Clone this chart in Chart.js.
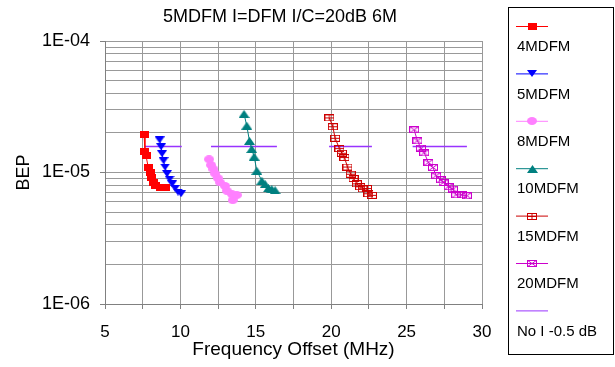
<!DOCTYPE html>
<html>
<head>
<meta charset="utf-8">
<script src="https://cdn.jsdelivr.net/npm/chart.js@4.4.1/dist/chart.umd.min.js"></script>
<style>
  body { margin: 0; background: #fff; }
  canvas { display: block; }
</style>
</head>
<body>
<canvas id="chart" width="615" height="367"></canvas>
<script>
// values (MHz / BEP)
const x4 = [7.59, 7.65, 7.72, 7.87, 7.99, 8.1, 8.2, 8.38, 8.65, 8.98];
const y4 = [1.94e-5, 1.45e-5, 1.34e-5, 1.09e-5, 1.0e-5, 9.2e-6, 8.4e-6, 7.9e-6, 7.7e-6, 7.7e-6];

const x5 = [8.62, 8.72, 8.78, 8.88, 8.98, 9.11, 9.28, 9.45, 9.65, 9.84, 10.04];
const y5 = [1.77e-5, 1.57e-5, 1.39e-5, 1.23e-5, 1.1e-5, 9.8e-6, 8.9e-6, 8.2e-6, 7.6e-6, 7.1e-6, 6.9e-6];

const x8 = [11.9, 12.03, 12.19, 12.3, 12.48, 12.63, 12.96, 13.08, 13.41, 13.74, 13.47];
const y8 = [1.26e-5, 1.14e-5, 1.06e-5, 9.8e-6, 9.06e-6, 8.4e-6, 7.9e-6, 7.26e-6, 6.85e-6, 6.73e-6, 6.16e-6];

const x10 = [14.22, 14.4, 14.58, 14.73, 14.89, 15.07, 15.4, 15.62, 15.84, 16.06, 16.28];
const y10 = [2.79e-5, 2.27e-5, 1.74e-5, 1.51e-5, 1.32e-5, 1.03e-5, 8.65e-6, 8.16e-6, 7.6e-6, 7.48e-6, 7.34e-6];

const x15 = [19.88, 20.11, 20.26, 20.55, 20.71, 20.88, 21.08, 21.3, 21.48, 21.7, 21.92, 22.1, 22.37, 22.47, 22.7];
const y15 = [2.6e-5, 2.23e-5, 1.82e-5, 1.52e-5, 1.4e-5, 1.3e-5, 1.1e-5, 9.7e-6, 9.0e-6, 8.2e-6, 7.8e-6, 7.5e-6, 7.55e-6, 6.9e-6, 6.7e-6];

const x20 = [25.5, 25.72, 25.95, 26.17, 26.45, 26.75, 26.96, 27.28, 27.45, 27.78, 28.07, 28.29, 28.67, 29.0];
const y20 = [2.11e-5, 1.74e-5, 1.53e-5, 1.41e-5, 1.19e-5, 1.09e-5, 9.44e-6, 8.8e-6, 8.4e-6, 7.8e-6, 7.48e-6, 6.76e-6, 6.76e-6, 6.65e-6];

// "No I -0.5 dB" reference level, drawn as separate segments
const noIStart = [7.65, 12.03, 19.86, 25.4];
const noIEnd = [10.09, 16.4, 22.7, 29.0];
const noIBep = 1.58e-5;

const seriesNames = ['4MDFM', '5MDFM', '8MDFM', '10MDFM', '15MDFM', '20MDFM', 'No I -0.5 dB'];
const titleText = '5MDFM I=DFM I/C=20dB 6M';
const xTitle = 'Frequency Offset (MHz)';
const yTitle = 'BEP';

const FONT = '"Liberation Sans", Arial, sans-serif';

function pts(xs, ys) {
  return xs.map((x, i) => ({ x: x, y: ys[i] }));
}

function noIData() {
  const out = [];
  noIStart.forEach((s, i) => {
    out.push({ x: s, y: noIBep });
    out.push({ x: noIEnd[i], y: noIBep });
    if (i < noIStart.length - 1) out.push({ x: (noIEnd[i] + noIStart[i + 1]) / 2, y: null });
  });
  return out;
}

// small canvases used as marker shapes
function marker(w, h, draw) {
  const c = document.createElement('canvas');
  c.width = w; c.height = h;
  draw(c.getContext('2d'), w, h);
  return c;
}

const mk4 = marker(9, 7, (g, w, h) => { g.fillStyle = '#ff0000'; g.fillRect(0, 0, w, h); });
const mk5 = marker(10, 7, (g, w, h) => {
  g.fillStyle = '#0000ff';
  g.beginPath(); g.moveTo(0, 0); g.lineTo(w, 0); g.lineTo(w / 2, h); g.closePath(); g.fill();
});
const mk8 = marker(10, 8, (g, w, h) => {
  g.fillStyle = '#ff80ff';
  g.beginPath(); g.ellipse(w / 2, h / 2, w / 2, h / 2, 0, 0, Math.PI * 2); g.fill();
});
const mk10 = marker(11, 8, (g, w, h) => {
  g.fillStyle = '#008080';
  g.beginPath(); g.moveTo(w / 2, 0); g.lineTo(w, h); g.lineTo(0, h); g.closePath(); g.fill();
});
const mk15 = marker(10, 7, (g, w, h) => {
  g.strokeStyle = '#cc0000'; g.lineWidth = 1;
  g.strokeRect(0.5, 0.5, w - 1, h - 1);
  g.beginPath();
  g.moveTo(w / 2, 0); g.lineTo(w / 2, h);
  g.moveTo(0, h / 2); g.lineTo(w, h / 2);
  g.stroke();
});
const mk20 = marker(10, 7, (g, w, h) => {
  g.strokeStyle = '#cc00cc'; g.lineWidth = 1;
  g.strokeRect(0.5, 0.5, w - 1, h - 1);
  g.beginPath();
  g.moveTo(0, 0); g.lineTo(w, h);
  g.moveTo(w, 0); g.lineTo(0, h);
  g.stroke();
});

const yTickValues = [];
for (let e = -6; e < -4; e++) {
  for (let m = 1; m <= 9; m++) yTickValues.push(Number((m * Math.pow(10, e)).toPrecision(3)));
}
yTickValues.push(1e-4);

function isDecade(v) {
  const l = Math.log10(v);
  return Math.abs(l - Math.round(l)) < 1e-9;
}

function series(label, data, color, style) {
  return {
    label: label, data: data, showLine: true,
    borderColor: color, backgroundColor: color, borderWidth: 1,
    pointStyle: style, pointRadius: 5, pointHoverRadius: 5
  };
}

const datasets = [
  series(seriesNames[0], pts(x4, y4), '#ff0000', mk4),
  series(seriesNames[1], pts(x5, y5), '#0000ff', mk5),
  series(seriesNames[2], pts(x8, y8), '#ff80ff', mk8),
  series(seriesNames[3], pts(x10, y10), '#008080', mk10),
  series(seriesNames[4], pts(x15, y15), '#cc0000', mk15),
  series(seriesNames[5], pts(x20, y20), '#cc00cc', mk20),
  { label: seriesNames[6], data: noIData(), showLine: true, borderColor: '#9933ff',
    borderWidth: 1.5, pointRadius: 0, spanGaps: false }
];

// titles, plus the legend as a boxed column on the right
const decorations = {
  id: 'decorations',
  afterDraw(chart) {
    const ctx = chart.ctx;
    const area = chart.chartArea;
    ctx.save();
    ctx.fillStyle = '#000';
    ctx.textAlign = 'center';
    ctx.textBaseline = 'middle';
    ctx.font = '18px ' + FONT;
    ctx.fillText(titleText, 280, 17);

    ctx.font = '19px ' + FONT;
    ctx.fillText(xTitle, (area.left + area.right) / 2, 350);

    ctx.save();
    ctx.translate(24, (area.top + area.bottom) / 2);
    ctx.rotate(-Math.PI / 2);
    ctx.font = '18px ' + FONT;
    ctx.fillText(yTitle, 0, 0);
    ctx.restore();

    ctx.strokeStyle = '#000';
    ctx.lineWidth = 1;
    ctx.strokeRect(508.5, 7.5, 105, 347);

    ctx.font = '15px ' + FONT;
    ctx.textAlign = 'left';
    chart.data.datasets.forEach((ds, i) => {
      const ly = 26.5 + i * 47.4;
      ctx.strokeStyle = ds.borderColor;
      ctx.lineWidth = 1;
      ctx.beginPath();
      ctx.moveTo(516, ly); ctx.lineTo(548, ly);
      ctx.stroke();
      if (ds.pointStyle && ds.pointStyle.width) {
        const m = ds.pointStyle;
        ctx.drawImage(m, Math.round(532 - m.width / 2), Math.round(ly - m.height / 2));
      }
      ctx.fillStyle = '#000';
      ctx.fillText(ds.label, 517, ly + 20.5);
    });
    ctx.restore();
  }
};

new Chart(document.getElementById('chart'), {
  type: 'scatter',
  data: { datasets: datasets },
  plugins: [decorations],
  options: {
    responsive: false,
    animation: false,
    layout: { padding: { left: 0, right: 133, top: 41, bottom: 0 } },
    plugins: { legend: { display: false }, title: { display: false }, tooltip: { enabled: false } },
    scales: {
      x: {
        type: 'linear', min: 5, max: 30,
        afterFit: scale => { scale.height = 63; },
        ticks: {
          stepSize: 2.5, autoSkip: false, maxRotation: 0, color: '#000', padding: 13,
          font: { family: FONT, size: 17 },
          callback: v => (v % 5 === 0 ? String(v) : '')
        },
        grid: { color: '#999999', tickColor: '#808080', tickLength: 5, drawTicks: true },
        border: { display: true, color: '#808080' }
      },
      y: {
        type: 'logarithmic', min: 1e-6, max: 1e-4,
        afterFit: scale => { scale.width = 105; },
        afterBuildTicks: scale => { scale.ticks = yTickValues.map(v => ({ value: v, major: isDecade(v) })); },
        ticks: {
          autoSkip: false, color: '#000', padding: 10,
          font: { family: FONT, size: 18 },
          callback: v => {
            if (!isDecade(v)) return '';
            const e = Math.round(Math.log10(v));
            return '1E' + (e < 0 ? '-' : '+') + String(Math.abs(e)).padStart(2, '0');
          }
        },
        grid: {
          color: '#999999', tickLength: 5,
          tickColor: c => (c.tick && isDecade(c.tick.value) ? '#808080' : 'rgba(0,0,0,0)')
        },
        border: { display: true, color: '#808080' }
      }
    }
  }
});
</script>
</body>
</html>
